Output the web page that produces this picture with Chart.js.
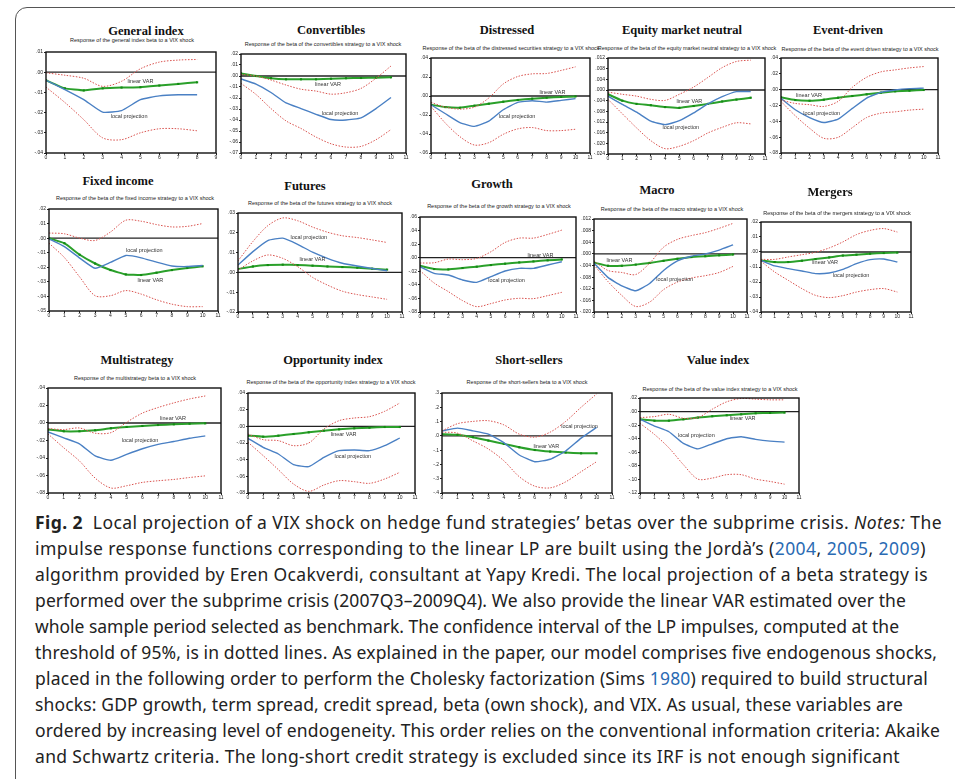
<!DOCTYPE html>
<html lang="en">
<head>
<meta charset="UTF-8">
<title>Fig. 2 Local projection of a VIX shock on hedge fund strategies' betas</title>
<script src="https://cdn.jsdelivr.net/npm/chart.js"></script>
<style>
  body { margin: 0; width: 955px; height: 779px; overflow: hidden; background: #fff; position: relative; }
  .frame { position: absolute; left: 15px; top: 7px; width: 980px; height: 820px; border: 1.5px solid #555; border-radius: 12px; }
  .ttl { position: absolute; font-family: "Liberation Serif", "DejaVu Serif", serif; font-weight: bold; font-size: 12.5px; color: #111; transform: translate(-50%, -50%); white-space: nowrap; }
  .sub { position: absolute; font-family: "Liberation Sans", Arial, sans-serif; font-size: 5.5px; color: #222; transform: translate(-50%, -50%); white-space: nowrap; }
  .box { position: absolute; }
  .caption { position: absolute; left: 35px; top: 509px; font-family: "Noto Sans", "Open Sans", sans-serif; font-size: 17.5px; line-height: 26px; color: #222; white-space: nowrap; }
  .caption .ln { display: inline-block; }
  .caption .yr { color: #2a6ab3; }
</style>
</head>
<body>
<div class="frame"></div>
<div id="panels"></div>
<div class="caption">
<span class="ln" data-w="907"><b>Fig. 2</b>&nbsp; Local projection of a VIX shock on hedge fund strategies’ betas over the subprime crisis. <i>Notes:</i> The</span><br>
<span class="ln" data-w="891">impulse response functions corresponding to the linear LP are built using the Jordà’s (<span class="yr">2004</span>, <span class="yr">2005</span>, <span class="yr">2009</span>)</span><br>
<span class="ln" data-w="893">algorithm provided by Eren Ocakverdi, consultant at Yapy Kredi. The local projection of a beta strategy is</span><br>
<span class="ln" data-w="871">performed over the subprime crisis (2007Q3–2009Q4). We also provide the linear VAR estimated over the</span><br>
<span class="ln" data-w="864">whole sample period selected as benchmark. The confidence interval of the LP impulses, computed at the</span><br>
<span class="ln" data-w="902">threshold of 95%, is in dotted lines. As explained in the paper, our model comprises five endogenous shocks,</span><br>
<span class="ln" data-w="893">placed in the following order to perform the Cholesky factorization (Sims <span class="yr">1980</span>) required to build structural</span><br>
<span class="ln" data-w="868">shocks: GDP growth, term spread, credit spread, beta (own shock), and VIX. As usual, these variables are</span><br>
<span class="ln" data-w="905">ordered by increasing level of endogeneity. This order relies on the conventional information criteria: Akaike</span><br>
<span class="ln" data-w="865">and Schwartz criteria. The long-short credit strategy is excluded since its IRF is not enough significant</span>
</div>

<script>
// Valeurs (horizon 0..10)
const genVar = [-0.004, -0.008, -0.009, -0.008, -0.0076, -0.0074, -0.0066, -0.0058, -0.005];
const genLp  = [-0.004, -0.0086, -0.0136, -0.0198, -0.019, -0.0136, -0.0117, -0.0112, -0.0112];
const genUp  = [-0.0003, -0.0015, -0.003, -0.007, -0.0045, 0.0017, 0.005, 0.006, 0.0063];
const genLo  = [-0.0074, -0.015, -0.0235, -0.0325, -0.0334, -0.030, -0.028, -0.028, -0.029];

const convVar = [0.0024, 0, -0.002, -0.003, -0.003, -0.003, -0.0025, -0.002, -0.0018, -0.0015, -0.0012];
const convLp  = [-0.0027, -0.0073, -0.015, -0.0244, -0.0296, -0.0348, -0.0396, -0.04, -0.038, -0.0296, -0.0195];
const convUp  = [0.0015, 0, -0.0037, -0.0082, -0.012, -0.0137, -0.0165, -0.0152, -0.0113, -0.002, 0.0091];
const convLo  = [-0.0067, -0.0168, -0.0296, -0.0408, -0.0477, -0.0555, -0.0616, -0.0646, -0.064, -0.0579, -0.0487];

const distVar = [-0.0092, -0.0117, -0.0124, -0.0102, -0.0081, -0.006, -0.0042, -0.0028, -0.0018, -0.001, -0.0004];
const distLp  = [-0.0092, -0.0187, -0.028, -0.032, -0.0265, -0.0145, -0.0067, -0.005, -0.0064, -0.0046, -0.0028];
const distUp  = [-0.0067, -0.0117, -0.0138, -0.0117, -0.0021, 0.0127, 0.0205, 0.0233, 0.0237, 0.0269, 0.0307];
const distLo  = [-0.011, -0.0286, -0.0428, -0.0516, -0.0491, -0.0403, -0.0346, -0.0332, -0.0364, -0.0364, -0.035];

const emnVar = [-0.0016, -0.004, -0.0052, -0.0057, -0.0064, -0.0067, -0.006, -0.0052, -0.0043, -0.0036, -0.0029];
const emnLp  = [-0.0023, -0.0054, -0.0083, -0.0117, -0.013, -0.0115, -0.0086, -0.0052, -0.0025, -0.0006, -0.0006];
const emnUp  = [-0.0008, -0.0016, -0.0023, -0.0035, -0.0039, -0.0016, 0.0011, 0.0047, 0.0084, 0.0107, 0.0112];
const emnLo  = [-0.0035, -0.0089, -0.0142, -0.019, -0.022, -0.0211, -0.019, -0.0161, -0.014, -0.0123, -0.0127];

const evtVar = [-0.0097, -0.0131, -0.014, -0.0127, -0.0102, -0.008, -0.0059, -0.0038, -0.0021, -0.0013, -0.0004];
const evtLp  = [-0.011, -0.0254, -0.0352, -0.0415, -0.0373, -0.0237, -0.0106, -0.0034, -0.0004, 0.0013, 0.002];
const evtUp  = [-0.0131, -0.0174, -0.019, -0.0212, -0.0148, 0.003, 0.0157, 0.0225, 0.025, 0.0275, 0.0292];
const evtLo  = [-0.0148, -0.033, -0.0487, -0.0614, -0.0602, -0.0479, -0.0352, -0.0297, -0.028, -0.0258, -0.0246];

const fixVar = [0, -0.0035, -0.0114, -0.0174, -0.0219, -0.0249, -0.0253, -0.0237, -0.0219, -0.0205, -0.0193];
const fixLp  = [-0.0005, -0.0058, -0.0137, -0.0207, -0.0167, -0.0119, -0.0135, -0.0165, -0.0191, -0.0195, -0.0188];
const fixUp  = [0.0035, 0.003, 0, -0.0016, 0.0042, 0.0123, 0.0116, 0.0093, 0.0077, 0.0081, 0.01];
const fixLo  = [-0.0035, -0.0133, -0.0267, -0.0395, -0.0395, -0.036, -0.0384, -0.0423, -0.0453, -0.047, -0.047];

const futVar = [0.0017, 0.003, 0.0037, 0.0039, 0.0037, 0.0034, 0.003, 0.0027, 0.0024, 0.0019, 0.0014];
const futLp  = [0.0037, 0.0105, 0.0161, 0.0173, 0.0142, 0.0102, 0.0071, 0.0046, 0.0032, 0.002, 0.0008];
const futUp  = [0.0058, 0.0156, 0.0236, 0.0275, 0.0261, 0.0229, 0.0203, 0.0185, 0.0176, 0.0164, 0.0151];
const futLo  = [0.0012, 0.0058, 0.0088, 0.0071, 0.0029, -0.0025, -0.0064, -0.0095, -0.0112, -0.0124, -0.0136];

const groVar = [-0.0118, -0.0167, -0.0172, -0.0152, -0.0132, -0.0108, -0.0088, -0.0069, -0.0054, -0.0039, -0.0025];
const groLp  = [-0.0132, -0.023, -0.0255, -0.0328, -0.0363, -0.0279, -0.0196, -0.0157, -0.0157, -0.0108, -0.0059];
const groUp  = [-0.0078, -0.0074, -0.002, -0.0029, -0.001, 0.0088, 0.0225, 0.0289, 0.0289, 0.0343, 0.0407];
const groLo  = [-0.0191, -0.0373, -0.05, -0.0632, -0.0721, -0.0676, -0.0623, -0.0598, -0.0603, -0.0559, -0.051];

const macVar = [-0.003, -0.0041, -0.0041, -0.0037, -0.0031, -0.0024, -0.0017, -0.0011, -0.0008, -0.0005, -0.0002];
const macLp  = [-0.0032, -0.0081, -0.011, -0.0127, -0.0102, -0.0057, -0.0024, -0.0008, 0, 0.0013, 0.0031];
const macUp  = [-0.0024, -0.0057, -0.0064, -0.0071, -0.0032, 0.0023, 0.005, 0.0063, 0.0073, 0.0088, 0.0105];
const macLo  = [-0.0038, -0.0095, -0.0143, -0.0181, -0.0166, -0.0123, -0.0097, -0.0083, -0.0075, -0.0064, -0.0043];

const merVar = [-0.0056, -0.0067, -0.0067, -0.0058, -0.0047, -0.0036, -0.0024, -0.0018, -0.0011, -0.0007, -0.0004];
const merLp  = [-0.0056, -0.0093, -0.0111, -0.0127, -0.0144, -0.014, -0.0116, -0.0078, -0.0051, -0.0047, -0.0067];
const merUp  = [-0.0049, -0.0049, -0.0033, -0.0018, -0.0002, 0.0027, 0.0067, 0.0116, 0.0144, 0.0156, 0.0133];
const merLo  = [-0.0062, -0.0133, -0.0189, -0.0244, -0.0289, -0.0304, -0.0291, -0.0267, -0.0251, -0.0244, -0.0267];

const mulVar = [-0.0075, -0.0094, -0.0094, -0.0083, -0.006, -0.0045, -0.0034, -0.0023, -0.0015, -0.0008, -0.0004];
const mulLp  = [-0.0102, -0.017, -0.0238, -0.0377, -0.0426, -0.0358, -0.0294, -0.0245, -0.0211, -0.0174, -0.0147];
const mulUp  = [-0.0064, -0.0075, -0.0057, -0.0117, -0.011, 0.0008, 0.0113, 0.0177, 0.023, 0.0275, 0.0309];
const mulLo  = [-0.0125, -0.0283, -0.0434, -0.063, -0.0743, -0.0717, -0.0679, -0.066, -0.0645, -0.0623, -0.0604];

const oppVar = [-0.0112, -0.0124, -0.0112, -0.0092, -0.0072, -0.0052, -0.0036, -0.0024, -0.0016, -0.0008, -0.0008];
const oppLp  = [-0.0144, -0.0252, -0.0332, -0.046, -0.0484, -0.0372, -0.0292, -0.0284, -0.0292, -0.0232, -0.014];
const oppUp  = [-0.0092, -0.016, -0.0172, -0.0232, -0.02, -0.0032, 0.0068, 0.01, 0.0116, 0.018, 0.028];
const oppLo  = [-0.0192, -0.0352, -0.052, -0.0692, -0.078, -0.0704, -0.0652, -0.0664, -0.0684, -0.0632, -0.0552];

const shsVar = [0.012, 0.007, -0.009, -0.033, -0.056, -0.08, -0.099, -0.11, -0.117, -0.122, -0.122];
const shsLp  = [0.035, 0.054, 0.035, 0.012, -0.047, -0.134, -0.181, -0.164, -0.106, -0.016, 0.059];
const shsUp  = [0.035, 0.085, 0.101, 0.106, 0.077, 0.012, -0.009, 0.026, 0.101, 0.2, 0.293];
const shsLo  = [0.026, 0.019, -0.035, -0.092, -0.174, -0.286, -0.352, -0.364, -0.322, -0.251, -0.181];

const valVar = [-0.0114, -0.0134, -0.0134, -0.0114, -0.0089, -0.0069, -0.0054, -0.004, -0.0025, -0.002, -0.0015];
const valLp  = [-0.0114, -0.0213, -0.0297, -0.047, -0.055, -0.0475, -0.04, -0.0371, -0.041, -0.0436, -0.045];
const valUp  = [-0.0089, -0.0074, -0.004, -0.0099, -0.0089, 0.0035, 0.0144, 0.0193, 0.0183, 0.0173, 0.0173];
const valLo  = [-0.0173, -0.0337, -0.0535, -0.0782, -0.0995, -0.098, -0.093, -0.093, -0.0995, -0.103, -0.107];

// mise en page de chaque petit graphique
const panels = [
  { title: 'General index', sub: 'Response of the general index beta to a VIX shock', tx: 146, ty: 31, sx: 132, sy: 40,
    L: 46, R: 217, T: 52, B: 153, yMin: -0.04, yMax: 0.01, step: 0.01, dec: 2, xMax: 9,
    v: genVar, lp: genLp, up: genUp, lo: genLo, varAt: [5, -0.0045], lpAt: [4.4, -0.022] },
  { title: 'Convertibles', sub: 'Response of the beta of the convertibles strategy to a VIX shock', tx: 331, ty: 30, sx: 323, sy: 44,
    L: 241, R: 407, T: 54, B: 153, yMin: -0.07, yMax: 0.02, step: 0.01, dec: 2, xMax: 11,
    v: convVar, lp: convLp, up: convUp, lo: convLo, varAt: [5.8, -0.0076], lpAt: [6.6, -0.034] },
  { title: 'Distressed', sub: 'Response of the beta of the distressed securities strategy to a VIX shock', tx: 507, ty: 30, sx: 511, sy: 48,
    L: 431, R: 591, T: 58, B: 153, yMin: -0.06, yMax: 0.04, step: 0.02, dec: 2, xMax: 11,
    v: distVar, lp: distLp, up: distUp, lo: distLo, varAt: [8.4, 0.004], lpAt: [5.95, -0.022] },
  { title: 'Equity market neutral', sub: 'Response of the beta of the equity market neutral strategy to a VIX shock', tx: 682, ty: 30, sx: 687, sy: 48,
    L: 608, R: 766, T: 58, B: 154, yMin: -0.024, yMax: 0.012, step: 0.004, dec: 3, xMax: 11,
    v: emnVar, lp: emnLp, up: emnUp, lo: emnLo, varAt: [5.7, -0.0042], lpAt: [5.1, -0.0142] },
  { title: 'Event-driven', sub: 'Response of the beta of the event driven strategy to a VIX shock', tx: 848, ty: 30, sx: 860, sy: 49,
    L: 781, R: 939, T: 58, B: 153, yMin: -0.08, yMax: 0.04, step: 0.02, dec: 2, xMax: 11,
    v: evtVar, lp: evtLp, up: evtUp, lo: evtLo, varAt: [1.96, -0.0076], lpAt: [2.85, -0.0297] },
  { title: 'Fixed income', sub: 'Response of the beta of the fixed income strategy to a VIX shock', tx: 118, ty: 181, sx: 135, sy: 198,
    L: 49, R: 219, T: 209, B: 311, yMin: -0.05, yMax: 0.02, step: 0.01, dec: 2, xMax: 11,
    v: fixVar, lp: fixLp, up: fixUp, lo: fixLo, varAt: [6.6, -0.0288], lpAt: [6.2, -0.0086] },
  { title: 'Futures', sub: 'Response of the beta of the futures strategy to a VIX shock', tx: 305, ty: 186, sx: 320, sy: 203,
    L: 238, R: 403, T: 213, B: 312, yMin: -0.02, yMax: 0.03, step: 0.01, dec: 2, xMax: 11,
    v: futVar, lp: futLp, up: futUp, lo: futLo, varAt: [5.0, 0.0063], lpAt: [4.75, 0.0176] },
  { title: 'Growth', sub: 'Response of the beta of the growth strategy to a VIX shock', tx: 492, ty: 184, sx: 499, sy: 206,
    L: 420, R: 577, T: 217, B: 312, yMin: -0.08, yMax: 0.06, step: 0.02, dec: 2, xMax: 11,
    v: groVar, lp: groLp, up: groUp, lo: groLo, varAt: [8.5, 0.003], lpAt: [6.1, -0.034] },
  { title: 'Macro', sub: 'Response of the beta of the macro strategy to a VIX shock', tx: 657, ty: 190, sx: 672, sy: 209,
    L: 594, R: 748, T: 219, B: 312, yMin: -0.02, yMax: 0.012, step: 0.004, dec: 3, xMax: 11,
    v: macVar, lp: macLp, up: macUp, lo: macLo, varAt: [1.83, -0.0023], lpAt: [5.8, -0.0087] },
  { title: 'Mergers', sub: 'Response of the beta of the mergers strategy to a VIX shock', tx: 830, ty: 192, sx: 837, sy: 213,
    L: 761, R: 912, T: 222, B: 312, yMin: -0.04, yMax: 0.02, step: 0.01, dec: 2, xMax: 11,
    v: merVar, lp: merLp, up: merUp, lo: merLo, varAt: [4.7, -0.0067], lpAt: [6.6, -0.0156] },
  { title: 'Multistrategy', sub: 'Response of the multistrategy beta to a VIX shock', tx: 137, ty: 360, sx: 135, sy: 378,
    L: 48, R: 222, T: 388, B: 493, yMin: -0.08, yMax: 0.04, step: 0.02, dec: 2, xMax: 11,
    v: mulVar, lp: mulLp, up: mulUp, lo: mulLo, varAt: [7.95, 0.0057], lpAt: [5.85, -0.02] },
  { title: 'Opportunity index', sub: 'Response of the beta of the opportunity index strategy to a VIX shock', tx: 333, ty: 360, sx: 331, sy: 382,
    L: 248, R: 416, T: 393, B: 493, yMin: -0.08, yMax: 0.04, step: 0.02, dec: 2, xMax: 11,
    v: oppVar, lp: oppLp, up: oppUp, lo: oppLo, varAt: [6.3, -0.0092], lpAt: [6.9, -0.0364] },
  { title: 'Short-sellers', sub: 'Response of the short-sellers beta to a VIX shock', tx: 529, ty: 360, sx: 527, sy: 382,
    L: 442, R: 613, T: 393, B: 493, yMin: -0.4, yMax: 0.3, step: 0.1, dec: 1, xMax: 11,
    v: shsVar, lp: shsLp, up: shsUp, lo: shsLo, varAt: [6.75, -0.075], lpAt: [8.9, 0.066] },
  { title: 'Value index', sub: 'Response of the beta of the value index strategy to a VIX shock', tx: 718, ty: 360, sx: 720, sy: 389,
    L: 640, R: 800, T: 398, B: 493, yMin: -0.12, yMax: 0.02, step: 0.02, dec: 2, xMax: 11,
    v: valVar, lp: valLp, up: valUp, lo: valLo, varAt: [7.1, -0.01], lpAt: [3.9, -0.035] }
];

const YW = 14, XH = 9, PT = 4, PR = 3;

function fmt(v, dec) {
  if (Math.abs(v) < 1e-9) v = 0;
  return v.toFixed(dec).replace('0.', '.');
}
function pts(arr) { return arr.map((y, i) => ({ x: i, y: y })); }

// ajuste l'espacement des lettres de chaque ligne de la légende
function fitCaption() {
  document.querySelectorAll('.caption .ln').forEach((el) => {
    el.style.letterSpacing = '0px';
    const nat = el.getBoundingClientRect().width;
    const n = el.textContent.length;
    el.style.letterSpacing = ((+el.dataset.w - nat) / n) + 'px';
  });
}
fitCaption();
if (document.fonts) document.fonts.ready.then(fitCaption);

const holder = document.getElementById('panels');

panels.forEach((p) => {
  const t = document.createElement('div');
  t.className = 'ttl'; t.textContent = p.title;
  t.style.left = p.tx + 'px'; t.style.top = p.ty + 'px';
  holder.appendChild(t);
  const s = document.createElement('div');
  s.className = 'sub'; s.textContent = p.sub;
  s.style.left = p.sx + 'px'; s.style.top = p.sy + 'px';
  holder.appendChild(s);

  const box = document.createElement('div');
  box.className = 'box';
  box.style.left = (p.L - YW) + 'px';
  box.style.top = (p.T - PT) + 'px';
  box.style.width = (p.R - p.L + YW + PR) + 'px';
  box.style.height = (p.B - p.T + PT + XH) + 'px';
  const cv = document.createElement('canvas');
  box.appendChild(cv);
  holder.appendChild(box);

  // cadre, ligne zéro et étiquettes
  const deco = {
    id: 'deco',
    beforeDatasetsDraw(chart) {
      const c = chart.ctx, a = chart.chartArea, y0 = chart.scales.y.getPixelForValue(0);
      c.save();
      c.strokeStyle = '#222'; c.lineWidth = 1.3;
      c.beginPath(); c.moveTo(a.left, y0); c.lineTo(a.right, y0); c.stroke();
      c.restore();
    },
    afterDatasetsDraw(chart) {
      const c = chart.ctx, xs = chart.scales.x, ys = chart.scales.y;
      c.save();
      c.font = '5.5px "Liberation Sans", Arial, sans-serif';
      c.fillStyle = '#333'; c.textAlign = 'center'; c.textBaseline = 'middle';
      c.fillText('linear VAR', xs.getPixelForValue(p.varAt[0]), ys.getPixelForValue(p.varAt[1]));
      c.fillText('local projection', xs.getPixelForValue(p.lpAt[0]), ys.getPixelForValue(p.lpAt[1]));
      c.restore();
    },
    afterDraw(chart) {
      const c = chart.ctx, a = chart.chartArea;
      c.save();
      c.strokeStyle = '#111'; c.lineWidth = 1.4;
      c.strokeRect(a.left, a.top, a.right - a.left, a.bottom - a.top);
      c.restore();
    }
  };

  new Chart(cv, {
    type: 'line',
    data: {
      datasets: [
        { data: pts(p.up), borderColor: '#d9534f', borderWidth: 1, borderDash: [1.5, 1.5], pointRadius: 0, tension: 0.3 },
        { data: pts(p.lo), borderColor: '#d9534f', borderWidth: 1, borderDash: [1.5, 1.5], pointRadius: 0, tension: 0.3 },
        { data: pts(p.lp), borderColor: '#4a80c4', borderWidth: 1.4, pointRadius: 0, tension: 0.15 },
        { data: pts(p.v), borderColor: '#2aa02a', borderWidth: 2, pointRadius: 1.5, pointStyle: 'rect',
          pointBackgroundColor: '#138a13', pointBorderColor: '#138a13', pointBorderWidth: 0, tension: 0.1 }
      ]
    },
    options: {
      responsive: true,
      maintainAspectRatio: false,
      animation: false,
      layout: { padding: { top: PT, right: PR, left: 0, bottom: 0 } },
      plugins: { legend: { display: false }, tooltip: { enabled: false } },
      scales: {
        x: {
          type: 'linear', min: 0, max: p.xMax,
          ticks: { stepSize: 1, autoSkip: false, maxRotation: 0, padding: 0, color: '#222', font: { size: 5, family: 'Liberation Sans' } },
          grid: { drawOnChartArea: false, tickLength: 2, color: '#222' },
          border: { display: false },
          afterFit(a) { a.height = XH; }
        },
        y: {
          min: p.yMin, max: p.yMax,
          ticks: { stepSize: p.step, autoSkip: false, padding: 1, color: '#222', font: { size: 5, family: 'Liberation Sans' },
            callback: (v) => fmt(v, p.dec) },
          grid: { drawOnChartArea: false, tickLength: 2, color: '#222' },
          border: { display: false },
          afterFit(a) { a.width = YW; }
        }
      }
    },
    plugins: [deco]
  });
});
</script>
</body>
</html>
